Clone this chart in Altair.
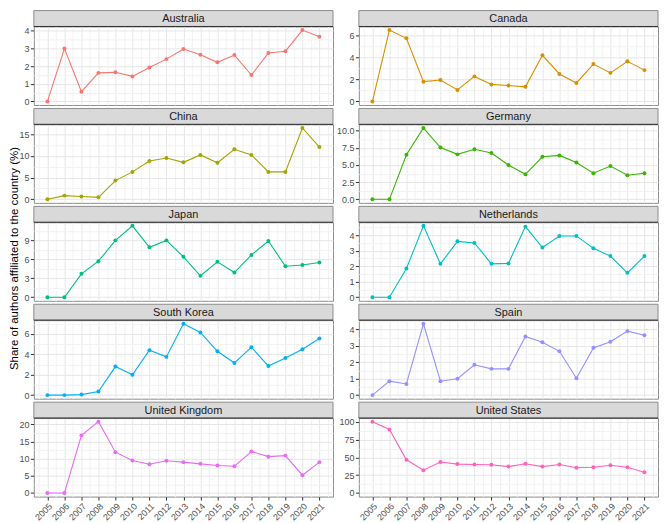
import altair as alt
import pandas as pd

years = list(range(2005, 2022))

countries = ["Australia", "Canada", "China", "Germany", "Japan",
             "Netherlands", "South Korea", "Spain", "United Kingdom", "United States"]

australia = [0, 3.0, 0.55, 1.62, 1.65, 1.42, 1.93, 2.4, 2.97, 2.65, 2.22, 2.63, 1.5, 2.75, 2.85, 4.05, 3.67]
canada = [0, 6.5, 5.75, 1.8, 1.95, 1.05, 2.28, 1.55, 1.45, 1.33, 4.2, 2.5, 1.68, 3.4, 2.6, 3.65, 2.85]
china = [0, 0.85, 0.65, 0.45, 4.3, 6.3, 8.8, 9.5, 8.5, 10.2, 8.4, 11.5, 10.2, 6.3, 6.3, 16.4, 12.0]
germany = [0, 0, 6.5, 10.4, 7.55, 6.55, 7.3, 6.75, 5.0, 3.65, 6.2, 6.4, 5.35, 3.8, 4.85, 3.5, 3.8]
japan = [0, 0, 3.7, 5.7, 9.0, 11.3, 7.9, 9.0, 6.4, 3.4, 5.6, 3.9, 6.7, 8.9, 4.9, 5.1, 5.5]
netherlands = [0, 0, 1.85, 4.6, 2.15, 3.6, 3.5, 2.15, 2.18, 4.55, 3.2, 3.95, 3.95, 3.15, 2.65, 1.57, 2.65]
south_korea = [0, 0, 0.05, 0.35, 2.8, 2.0, 4.4, 3.75, 7.0, 6.15, 4.3, 3.15, 4.7, 2.85, 3.65, 4.5, 5.55]
spain = [0, 0.85, 0.68, 4.35, 0.85, 1.0, 1.85, 1.6, 1.6, 3.57, 3.22, 2.67, 1.03, 2.88, 3.25, 3.9, 3.65]
united_kingdom = [0, 0, 16.8, 20.8, 11.9, 9.5, 8.4, 9.4, 9.0, 8.5, 8.0, 7.8, 12.1, 10.6, 10.9, 5.2, 9.0]
united_states = [100, 89, 46.5, 32, 43.5, 40.5, 40, 39.5, 37, 41, 37, 40, 35.5, 36, 39, 36, 29]

series = [australia, canada, china, germany, japan, netherlands,
          south_korea, spain, united_kingdom, united_states]

colors = ["#F8766D", "#D89000", "#A3A500", "#39B600", "#00BF7D",
          "#00BFC4", "#00B0F6", "#9590FF", "#E76BF3", "#FF62BC"]

# major y break step and label format per panel
y_steps = [1, 2, 5, 2.5, 3, 1, 2, 1, 5, 25]
y_formats = ["d", "d", "d", ".1f", "d", "d", "d", "d", "d", "d"]

y_title = "Share of authors affiliated to the country (%)"

W, H = 301, 79
STRIP = 16
FONT = "Liberation Sans"
MAJOR_GRID = "#E6E6E6"
MINOR_GRID = "#F2F2F2"


def is_minor(step):
    return f"abs(datum.value/{step} - round(datum.value/{step})) > 1e-6"


def panel(idx, bottom, with_title):
    name = countries[idx]
    vals = series[idx]
    color = colors[idx]
    step = y_steps[idx]
    fmt = y_formats[idx]
    df = pd.DataFrame({"year": years, "share": vals})
    lo, hi = min(0, min(vals)), max(vals)
    pad = 0.05 * (hi - lo)
    ydom = [lo - pad, hi + pad]
    half = step / 2
    yvals = []
    k = int(ydom[0] // half)
    while k * half <= ydom[1]:
        if k * half >= ydom[0]:
            yvals.append(k * half)
        k += 1
    xpad = 0.05 * (years[-1] - years[0])
    xdom = [years[0] - xpad, years[-1] + xpad]
    xvals = [years[0] - 0.5 + 0.5 * i for i in range(2 * len(years) + 1)]

    xminor = is_minor(1)
    yminor = is_minor(step)

    grid_x = {"condition": {"test": xminor, "value": MINOR_GRID}, "value": MAJOR_GRID}
    grid_y = {"condition": {"test": yminor, "value": MINOR_GRID}, "value": MAJOR_GRID}

    if bottom:
        xaxis = alt.Axis(values=xvals, title=None, grid=True, gridColor=grid_x,
                         labelExpr=f"{xminor} ? '' : format(datum.value, 'd')",
                         labelAngle=-45, labelOverlap=False, labelFlush=False,
                         labelBound=False,
                         tickOpacity={"condition": {"test": xminor, "value": 0}, "value": 1},
                         domain=False)
    else:
        xaxis = alt.Axis(values=xvals, title=None, grid=True, gridColor=grid_x,
                         labels=False, ticks=False, domain=False)

    yaxis = alt.Axis(values=yvals, title=None, grid=True, gridColor=grid_y,
                     labelExpr=f"{yminor} ? '' : format(datum.value, '{fmt}')",
                     labelOverlap=False, labelFlush=False, labelBound=False,
                     tickOpacity={"condition": {"test": yminor, "value": 0}, "value": 1},
                     domain=False)

    base = alt.Chart(df).encode(
        x=alt.X("year:Q", scale=alt.Scale(domain=xdom, nice=False, zero=False), axis=xaxis),
        y=alt.Y("share:Q", scale=alt.Scale(domain=ydom, nice=False, zero=False), axis=yaxis),
    )
    line = base.mark_line(color=color, strokeWidth=1.1)
    pts = base.mark_circle(color=color, size=16, opacity=1)

    sdf = pd.DataFrame({"country": [name]})
    strip = alt.Chart(sdf).mark_rect(fill="#D9D9D9", stroke="#8C8C8C", strokeWidth=1).encode(
        x=alt.value(0), x2=alt.value(W), y=alt.value(-STRIP), y2=alt.value(0))
    stext = alt.Chart(sdf).mark_text(font=FONT, fontSize=11, color="#1A1A1A",
                                     baseline="middle", align="center").encode(
        text="country:N", x=alt.value(W / 2), y=alt.value(-STRIP / 2 + 0.5))
    topline = alt.Chart(sdf).mark_rule(color="#333333", strokeWidth=1).encode(
        x=alt.value(0), x2=alt.value(W), y=alt.value(0))

    layers = [line, pts, strip, stext, topline]
    if with_title:
        tdf = pd.DataFrame({"t": [y_title]})
        ttext = alt.Chart(tdf).mark_text(font=FONT, fontSize=11.5, color="#000000",
                                         angle=270, baseline="middle", align="center").encode(
            text="t:N", x=alt.value(-19), y=alt.value(H / 2 - 3))
        layers.append(ttext)
    return alt.layer(*layers).properties(width=W, height=H)


panels = [panel(i, bottom=(i >= 8), with_title=(i == 4)) for i in range(len(countries))]

chart = alt.concat(*panels, columns=2, spacing={"row": 19.5, "column": 26},
                   bounds="flush").properties(padding=0).configure_view(
    stroke="#8C8C8C", strokeWidth=1
).configure_axis(
    labelFont=FONT, labelFontSize=9, labelColor="#4D4D4D",
    tickColor="#333333", tickSize=3.5, labelPadding=1.5, gridWidth=1
)

chart.save("out.html", embed_options={"renderer": "svg", "actions": False})
